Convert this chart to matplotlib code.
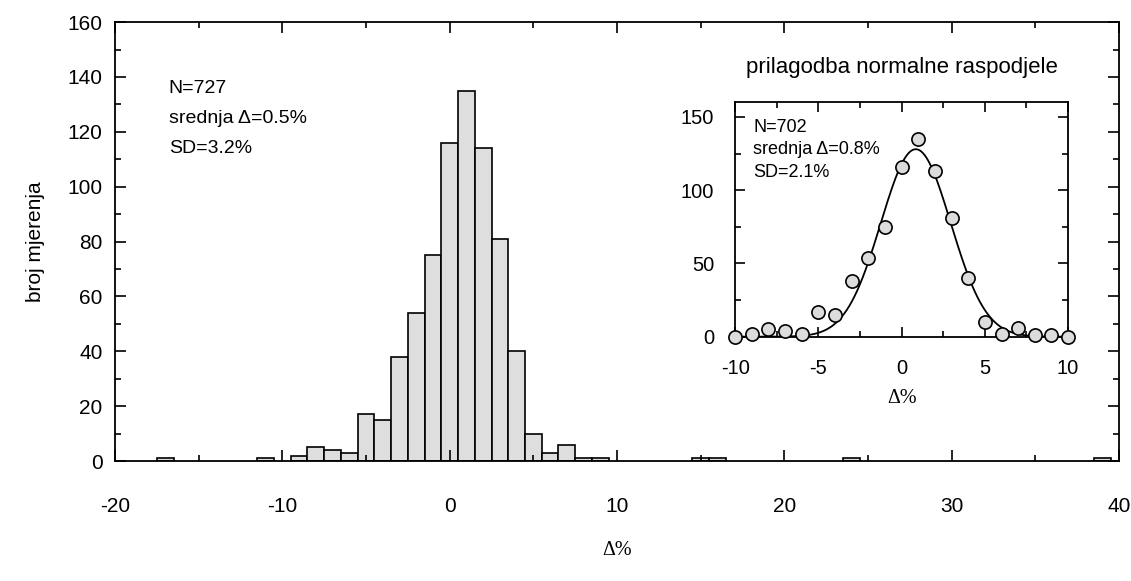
import numpy as np
import matplotlib
matplotlib.use("Agg")
import matplotlib.pyplot as plt
from matplotlib.ticker import MultipleLocator

# ---- main histogram data (bin centres, counts) ----
bin_centers = [-17, -11, -9, -8, -7, -6, -5, -4, -3, -2, -1, 0, 1, 2, 3, 4,
               5, 6, 7, 8, 9, 15, 16, 24, 39]
bin_counts = [1, 1, 2, 5, 4, 3, 17, 15, 38, 54, 75, 116, 135, 114, 81, 40,
              10, 3, 6, 1, 1, 1, 1, 1, 1]

# ---- inset data (normal fit) ----
inset_x = [-10, -9, -8, -7, -6, -5, -4, -3, -2, -1, 0, 1, 2, 3, 4, 5, 6, 7, 8, 9, 10]
inset_y = [0, 2, 5, 4, 2, 17, 15, 38, 54, 75, 116, 135, 113, 81, 40, 10, 2, 6, 1, 1, 0]
fit_amp = 128.0
fit_mean = 0.85
fit_sd = 2.1

main_stats = ["N=727", "srednja \u0394=0.5%", "SD=3.2%"]
inset_stats = ["N=702", "srednja \u0394=0.8%", "SD=2.1%"]

plt.rcParams['font.family'] = ['Liberation Sans', 'DejaVu Sans']
plt.rcParams['axes.unicode_minus'] = False
serif = ['Liberation Serif', 'DejaVu Serif']

fig = plt.figure(figsize=(11.31, 5.81), dpi=100)
ax = fig.add_axes([0.1017, 0.2065, 0.8877, 0.7555])
ax.bar(bin_centers, bin_counts, width=1.0, color='#dedede', edgecolor='black',
       linewidth=1.2, align='center')
ax.set_xlim(-20, 40)
ax.set_ylim(0, 160)
ax.xaxis.set_major_locator(MultipleLocator(10))
ax.xaxis.set_minor_locator(MultipleLocator(5))
ax.yaxis.set_major_locator(MultipleLocator(20))
ax.yaxis.set_minor_locator(MultipleLocator(10))
ax.tick_params(which='both', direction='in', top=True, right=True, labelsize=15)
ax.tick_params(which='major', length=8, width=1.2)
ax.tick_params(axis='y', which='major', pad=9)
ax.tick_params(axis='x', which='major', pad=26)
ax.tick_params(which='minor', length=4.5, width=1.2)
for s in ax.spines.values():
    s.set_linewidth(1.3)
ax.set_ylabel("broj mjerenja", fontsize=15, labelpad=16)
ax.set_xlabel("\u0394%", fontsize=14.5, family=serif, labelpad=18)

for i, t in enumerate(main_stats):
    ax.text(0.0535, 0.848 - i * 0.0675, t, transform=ax.transAxes, fontsize=14,
            va='center', ha='left')

# ---- inset ----
ins = fig.add_axes([0.650, 0.4205, 0.2944, 0.4034])
xs = np.linspace(-10, 10, 400)
ins.plot(xs, fit_amp * np.exp(-(xs - fit_mean) ** 2 / (2 * fit_sd ** 2)),
         color='black', linewidth=1.3)
ins.plot(inset_x, inset_y, 'o', markersize=9.5, markerfacecolor='#dcdcdc',
         markeredgecolor='black', markeredgewidth=1.2, clip_on=False, zorder=5)
ins.set_xlim(-10, 10)
ins.set_ylim(0, 160)
ins.xaxis.set_major_locator(MultipleLocator(5))
ins.xaxis.set_minor_locator(MultipleLocator(2.5))
ins.yaxis.set_major_locator(MultipleLocator(50))
ins.yaxis.set_minor_locator(MultipleLocator(25))
ins.tick_params(which='both', direction='in', top=True, right=True, labelsize=14.5)
ins.tick_params(which='major', length=7, width=1.2)
ins.tick_params(axis='y', which='major', pad=15)
ins.tick_params(axis='x', which='major', pad=16)
ins.tick_params(which='minor', length=4, width=1.2)
for s in ins.spines.values():
    s.set_linewidth(1.3)
ins.set_xlabel("\u0394%", fontsize=14.5, family=serif, labelpad=8)
ins.set_title("prilagodba normalne raspodjele", fontsize=16, pad=21)
for i, t in enumerate(inset_stats):
    ins.text(0.054, 0.893 - i * 0.096, t, transform=ins.transAxes, fontsize=13,
             va='center', ha='left')

fig.savefig("out.png", dpi=100)
